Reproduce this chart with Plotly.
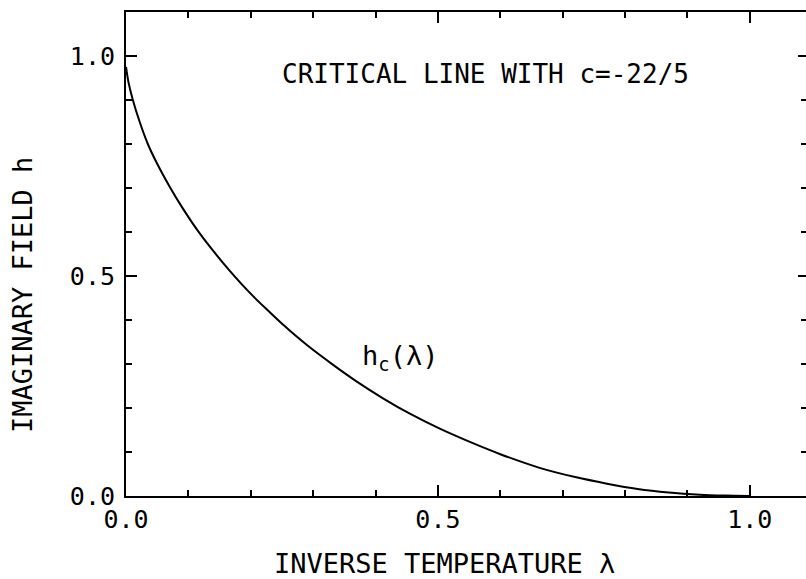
import plotly.graph_objects as go

# Data
lam = [0.0, 0.004, 0.011, 0.022, 0.035, 0.05, 0.07, 0.09, 0.115, 0.137, 0.165,
       0.199, 0.225, 0.252, 0.29, 0.332, 0.37, 0.412, 0.455, 0.503, 0.556, 0.6,
       0.663, 0.72, 0.771, 0.82, 0.87, 0.92, 0.96, 1.0]
h_c = [0.975, 0.94, 0.9, 0.85, 0.8, 0.755, 0.703, 0.656, 0.603, 0.562, 0.514,
       0.461, 0.425, 0.389, 0.343, 0.298, 0.26, 0.222, 0.187, 0.153, 0.12, 0.095,
       0.064, 0.043, 0.028, 0.016, 0.008, 0.003, 0.001, 0.0]

x_ticks = [0.0, 0.5, 1.0]
x_ticklabels = ["0.0", "0.5", "1.0"]
y_ticks = [0.0, 0.5, 1.0]
y_ticklabels = ["0.0", "0.5", "1.0"]

title_text = "CRITICAL LINE WITH c=-22/5"
curve_label = "h<sub>c</sub>(λ)"
x_title = "INVERSE TEMPERATURE λ"
y_title = "IMAGINARY FIELD h"

FONT = "DejaVu Sans Mono"

fig = go.Figure()
fig.add_trace(go.Scatter(x=lam, y=h_c, mode="lines",
                         line=dict(color="black", width=2, shape="spline", smoothing=0.8),
                         hoverinfo="skip", showlegend=False))
# invisible copy bound to the right-hand tick axis
fig.add_trace(go.Scatter(x=lam, y=h_c, mode="lines", line=dict(color="rgba(0,0,0,0)", width=0),
                         yaxis="y2", hoverinfo="skip", showlegend=False))

axis_font = dict(family=FONT, size=25, color="black")

fig.update_layout(
    width=806, height=579,
    margin=dict(l=126, r=0, t=12, b=83),
    paper_bgcolor="white", plot_bgcolor="white",
    font=dict(family=FONT, color="black"),
    xaxis=dict(range=[0, 1.09], showgrid=False, zeroline=False,
               showline=True, linecolor="black", linewidth=2, mirror="ticks",
               ticks="inside", ticklen=11, tickwidth=2, tickcolor="black",
               tickvals=x_ticks, ticktext=x_ticklabels, tickfont=axis_font,
               minor=dict(ticks="inside", ticklen=6, tickwidth=1.5, tickcolor="black", dtick=0.1, showgrid=False)),
    yaxis=dict(range=[0, 1.1], showgrid=False, zeroline=False,
               showline=True, linecolor="black", linewidth=2, mirror=False,
               ticks="inside", ticklen=11, tickwidth=2, tickcolor="black",
               tickvals=y_ticks, ticktext=y_ticklabels, tickfont=axis_font,
               ticklabelstandoff=4,
               minor=dict(ticks="inside", ticklen=6, tickwidth=1.5, tickcolor="black", dtick=0.1, showgrid=False)),
    yaxis2=dict(range=[0, 1.1], overlaying="y", side="right", showgrid=False, zeroline=False,
                showline=False, ticks="inside", ticklen=8, tickwidth=2, tickcolor="black",
                tickvals=y_ticks, showticklabels=False,
                minor=dict(ticks="inside", ticklen=5, tickwidth=1.5, tickcolor="black", dtick=0.1, showgrid=False)),
)

fig.add_annotation(x=0.577, y=0.959, xref="x", yref="y", text=title_text, showarrow=False,
                   font=dict(family=FONT, size=26, color="black"))
fig.add_annotation(x=0.439, y=0.315, xref="x", yref="y", text=curve_label, showarrow=False,
                   font=dict(family=FONT, size=27, color="black"))
fig.add_annotation(x=0.469, y=-0.139, xref="paper", yref="paper", text=x_title, showarrow=False,
                   yanchor="middle", font=dict(family=FONT, size=27, color="black"))
fig.add_annotation(x=-0.153, y=0.415, xref="paper", yref="paper", text=y_title, showarrow=False,
                   textangle=-90, xanchor="center", yanchor="middle",
                   font=dict(family=FONT, size=27, color="black"))

fig.write_html("out.html")
